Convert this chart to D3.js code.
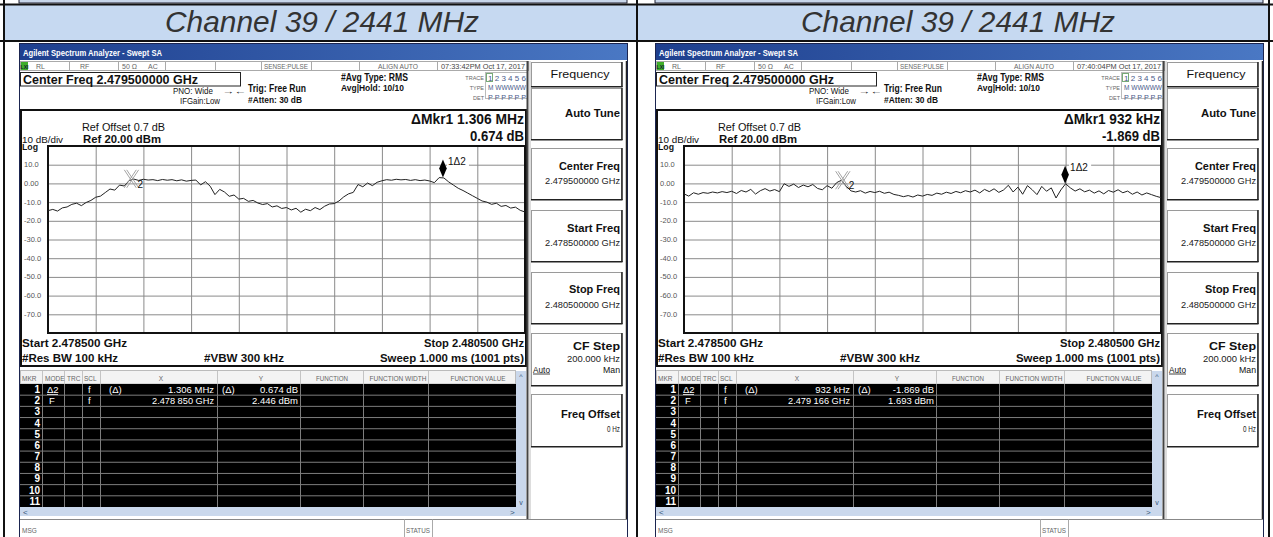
<!DOCTYPE html>
<html>
<head>
<meta charset="utf-8">
<script src="https://cdn.jsdelivr.net/npm/d3@7"></script>
<style>
  body { margin: 0; background: #fff; }
  svg { display: block; }
</style>
</head>
<body>
<svg id="chart" width="1273" height="537"></svg>
<script>
// ---- data ----
const channelTitles = ["Channel 39 / 2441 MHz", "Channel 39 / 2441 MHz"];
const timestamps = ["07:33:42PM Oct 17, 2017", "07:40:04PM Oct 17, 2017"];
const deltaFreqLabels = ["\u0394Mkr1 1.306 MHz", "\u0394Mkr1 932 kHz"];
const deltaLevelLabels = ["0.674 dB", "-1.869 dB"];
const row1X = ["1.306 MHz", "932 kHz"];
const row1Y = ["0.674 dB", "-1.869 dB"];
const row2X = ["2.478 850 GHz", "2.479 166 GHz"];
const row2Y = ["2.446 dBm", "1.693 dBm"];

const mkr2GHz = [2.47885, 2.479166];
const mkr2Dbm = [2.446, 1.693];
const mkr1DeltaMHz = [1.306, 0.932];
const mkr1DeltaDb = [0.674, -1.869];

const sweepStart = 2.4785, sweepStop = 2.4805;   // GHz
const refLevel = 20, dbPerDiv = 10;
const yTicks = [10, 0, -10, -20, -30, -40, -50, -60, -70];
const yTickLabels = ["10.0", "0.00", "-10.0", "-20.0", "-30.0", "-40.0", "-50.0", "-60.0", "-70.0"];

// trace samples, dBm, every 20 kHz from start to stop
const levelsA = [
  -14.6, -13.9, -14.8, -13.1, -12.6, -11.2, -10.6, -11.9, -10.2, -9.1,
  -7.4, -6.8, -4.9, -3.0, -3.6, -0.9, -1.4, 1.5, 2.3, 1.6,
  2.2, 1.8, 2.0, 1.5, 2.1, 1.7, 2.0, 1.4, 1.9, 1.2,
  1.6, 1.8, -0.8, 0.9, -1.5, -6.0, -3.2, -4.6, -6.9, -6.2,
  -8.4, -8.0, -9.6, -9.1, -10.5, -11.3, -10.8, -12.6, -12.0, -13.4,
  -12.9, -14.2, -13.3, -15.4, -13.8, -14.6, -12.9, -14.0, -12.2, -11.0,
  -10.8, -9.4, -7.2, -5.6, -4.8, -0.6, -1.8, 0.2, -1.2, 0.6,
  1.4, 2.0, 1.7, 2.2, 1.9, 2.1, 1.6, 2.0, 1.5, 1.8,
  1.3, 0.4, 3.1, 2.9, 0.8, -0.9, -2.6, -3.8, -5.2, -6.6,
  -8.0, -9.4, -10.0, -11.2, -10.6, -12.3, -11.8, -13.2, -12.7, -14.4,
  -15.3
];
const levelsB = [
  -5.6, -6.8, -5.0, -5.8, -4.9, -5.3, -4.6, -5.1, -4.4, -4.9,
  -4.2, -5.4, -3.8, -4.6, -3.2, -5.7, -3.9, -2.8, -4.1, -3.3,
  -4.4, -0.2, -1.6, -0.4, -2.2, -0.9, -1.8, -0.6, -2.7, -3.4,
  -1.2, -2.6, 0.4, 1.7, -1.5, -4.0, -4.6, -3.9, -5.2, -4.3,
  -4.9, -4.2, -5.3, -4.7, -5.9, -6.4, -7.1, -6.5, -7.3, -6.2,
  -6.8, -5.9, -6.4, -5.2, -5.8, -4.7, -5.4, -4.3, -5.0, -3.9,
  -4.6, -3.6, -5.1, -3.2, -4.4, -2.9, -4.8, -3.5, -1.0, -4.6,
  -2.0, -5.8, -1.2, -3.4, -6.0, -1.6, -4.2, -2.4, -7.8, -3.5,
  -0.2, -2.4, -4.1, -2.9, -4.5, -3.6, -5.2, -4.0, -5.6, -3.8,
  -4.7, -3.4, -5.0, -4.1, -5.8, -4.6, -6.2, -5.1, -6.0, -6.9,
  -7.6
];
const traces = [levelsA, levelsB];

const NARROW = "'Liberation Sans Narrow','Arial Narrow','Liberation Sans',Arial,sans-serif";
const SANS = "'Liberation Sans',Arial,sans-serif";

const svg = d3.select("#chart");

function txt(g, x, y, s, o = {}) {
  const t = g.append("text")
    .attr("x", x).attr("y", y).text(s)
    .attr("font-family", o.family || NARROW)
    .attr("font-size", o.size || 8)
    .attr("font-weight", o.bold ? "bold" : null)
    .attr("font-style", o.italic ? "italic" : null)
    .attr("text-anchor", o.anchor || "start")
    .attr("fill", o.fill || "#111");
  if (o.w) t.attr("textLength", o.w).attr("lengthAdjust", "spacingAndGlyphs");
  return t;
}
function line(g, x1, y1, x2, y2, stroke, sw) {
  return g.append("line").attr("x1", x1).attr("y1", y1).attr("x2", x2).attr("y2", y2)
    .attr("stroke", stroke).attr("stroke-width", sw || 1);
}

const defs = svg.append("defs");
const grad = defs.append("linearGradient").attr("id", "bar");
grad.append("stop").attr("offset", "0%").attr("stop-color", "#1e3f8e");
grad.append("stop").attr("offset", "100%").attr("stop-color", "#4a78c4");

// ---- document table frame ----
[19, 655].forEach(x0 => {
  svg.append("rect").attr("x", x0).attr("y", -2).attr("width", 608).attr("height", 5)
    .attr("fill", "#c8d6ea").attr("stroke", "#223").attr("stroke-width", 1);
});
svg.append("rect").attr("x", 4).attr("y", 5).attr("width", 1265).attr("height", 35).attr("fill", "#c6d9f1");
line(svg, 0, 4.5, 1273, 4.5, "#111", 2);
line(svg, 0, 41, 1273, 41, "#111", 2);
[4, 637, 1269].forEach(x => line(svg, x, 0, x, 537, "#111", 2));
txt(svg, 322, 32, channelTitles[0], { family: SANS, size: 29, italic: true, anchor: "middle", fill: "#333", w: 314 });
txt(svg, 958, 32, channelTitles[1], { family: SANS, size: 29, italic: true, anchor: "middle", fill: "#333", w: 314 });

// ---- one analyzer screenshot ----
function drawScreen(k, ox) {
  const g = svg.append("g").attr("transform", `translate(${ox},0)`);

  g.append("rect").attr("x", 19.5).attr("y", 43.5).attr("width", 608).attr("height", 500)
    .attr("fill", "#fff").attr("stroke", "#1b2550").attr("stroke-width", 1);
  g.append("rect").attr("x", 20).attr("y", 44).attr("width", 607).attr("height", 16).attr("fill", "url(#bar)");
  txt(g, 23, 55.5, "Agilent Spectrum Analyzer - Swept SA", { size: 9, bold: true, fill: "#fff", w: 139 });

  // status row
  g.append("rect").attr("x", 20.5).attr("y", 61.5).attr("width", 508).attr("height", 9)
    .attr("fill", "#fff").attr("stroke", "#aaa");
  [69, 118, 165, 215, 261, 311, 359, 437].forEach(x => line(g, x + 0.5, 61.5, x + 0.5, 70.5, "#aaa"));
  g.append("rect").attr("x", 21).attr("y", 62).attr("width", 7).attr("height", 8).attr("fill", "#3fae2a");
  txt(g, 24.5, 68.5, "LXI", { size: 5, bold: true, anchor: "middle", fill: "#123" });
  const st = { size: 7, fill: "#666" };
  txt(g, 36, 68.5, "RL", st);
  txt(g, 80, 68.5, "RF", st);
  txt(g, 122, 68.5, "50 \u03a9", st);
  txt(g, 148, 68.5, "AC", st);
  txt(g, 286, 68.5, "SENSE:PULSE", { ...st, anchor: "middle", w: 44 });
  txt(g, 398, 68.5, "ALIGN AUTO", { ...st, anchor: "middle", w: 40 });
  txt(g, 483, 68.5, timestamps[k], { ...st, anchor: "middle", fill: "#444", w: 84 });

  // settings block
  g.append("rect").attr("x", 20.5).attr("y", 72.5).attr("width", 220).attr("height", 13.5)
    .attr("fill", "#fff").attr("stroke", "#222");
  txt(g, 23, 84, "Center Freq 2.479500000 GHz", { size: 12.5, bold: true, w: 175 });
  txt(g, 173, 94, "PNO: Wide", { size: 8.5, w: 40 });
  txt(g, 222, 94, "\u2192\u2190", { size: 8, w: 24 });
  txt(g, 180, 103.5, "IFGain:Low", { size: 8.5, w: 40 });
  txt(g, 248, 92, "Trig: Free Run", { size: 10, bold: true, w: 58 });
  txt(g, 248, 102.5, "#Atten: 30 dB", { size: 9, bold: true, w: 54 });
  txt(g, 341, 81, "#Avg Type: RMS", { size: 10, bold: true, w: 67 });
  txt(g, 341, 91, "Avg|Hold: 10/10", { size: 9.5, bold: true, w: 63 });

  // trace indicator
  g.append("rect").attr("x", 485.5).attr("y", 72.5).attr("width", 42).attr("height", 26)
    .attr("fill", "#fff").attr("stroke", "#bbb");
  g.append("rect").attr("x", 486.5).attr("y", 73.5).attr("width", 6).attr("height", 8)
    .attr("fill", "none").attr("stroke", "#7a7");
  txt(g, 484, 80, "TRACE", { size: 5.5, anchor: "end", fill: "#666" });
  txt(g, 484, 90, "TYPE", { size: 5.5, anchor: "end", fill: "#666" });
  txt(g, 484, 99.5, "DET", { size: 5.5, anchor: "end", fill: "#666" });
  txt(g, 488, 80.5, "1 2 3 4 5 6", { size: 8, fill: "#4a5a8a", w: 38 });
  txt(g, 488, 90, "M WWWWW", { size: 6.5, fill: "#4a5a8a", w: 38 });
  txt(g, 488, 99.5, "P P P P P P", { size: 7.5, fill: "#4a5a8a", w: 38 });

  // graph panel
  g.append("rect").attr("x", 21).attr("y", 110).attr("width", 505).attr("height", 256)
    .attr("fill", "#fff").attr("stroke", "#111").attr("stroke-width", 2);
  txt(g, 524, 123.5, deltaFreqLabels[k], { size: 14, bold: true, anchor: "end", w: k ? 96 : 113 });
  txt(g, 524, 141, deltaLevelLabels[k], { size: 14, bold: true, anchor: "end", w: k ? 58 : 54 });
  txt(g, 82, 131, "Ref Offset 0.7 dB", { size: 10, w: 83 });
  txt(g, 22, 142.5, "10 dB/div", { size: 9.5, w: 41 });
  txt(g, 83, 142.5, "Ref 20.00 dBm", { size: 11.5, bold: true, w: 78 });
  txt(g, 22, 150, "Log", { size: 9, bold: true, w: 16 });

  const x = d3.scaleLinear().domain([sweepStart, sweepStop]).range([48, 525]);
  const y = d3.scaleLinear().domain([refLevel - 10 * dbPerDiv, refLevel]).range([333, 146]);

  const xDiv = d3.range(11).map(i => sweepStart + i * (sweepStop - sweepStart) / 10);
  const yDiv = d3.range(11).map(i => refLevel - i * dbPerDiv);

  const grid = g.append("g");
  grid.append("g").attr("transform", "translate(0,333)")
    .call(d3.axisBottom(x).tickValues(xDiv).tickSize(-187).tickFormat(""))
    .call(a => a.select(".domain").remove())
    .selectAll("line").attr("stroke", "#8a8a8a");
  grid.append("g").attr("transform", "translate(48,0)")
    .call(d3.axisLeft(y).tickValues(yDiv).tickSize(-477).tickFormat(""))
    .call(a => a.select(".domain").remove())
    .selectAll("line").attr("stroke", "#8a8a8a");
  g.append("rect").attr("x", 48).attr("y", 146).attr("width", 477).attr("height", 187)
    .attr("fill", "none").attr("stroke", "#111").attr("stroke-width", 2);

  yTicks.forEach((t, i) => txt(g, 24, y(t) + 2.5, yTickLabels[i], { size: 7.5, fill: "#555" }));

  const lv = traces[k];
  const step = (sweepStop - sweepStart) / (lv.length - 1);
  const path = d3.line().x((d, i) => x(sweepStart + i * step)).y(d => y(d));
  g.append("path").datum(lv).attr("d", path)
    .attr("fill", "none").attr("stroke", "#222").attr("stroke-width", 1);

  // marker 2 (fixed) drawn as an X
  const m2x = x(mkr2GHz[k]), m2y = y(mkr2Dbm[k]);
  [-1.2, 1.2].forEach(dx => {
    g.append("path")
      .attr("d", `M${m2x + dx - 6},${m2y - 9}L${m2x + dx + 6},${m2y + 9}M${m2x + dx + 6},${m2y - 9}L${m2x + dx - 6},${m2y + 9}`)
      .attr("stroke", "#9a9a9a").attr("stroke-width", 0.9).attr("fill", "none");
  });
  txt(g, m2x + 6, m2y + 9, "2", { size: 10, family: SANS, fill: "#111" });

  // marker 1 (delta) drawn as a diamond
  const m1x = x(mkr2GHz[k] + mkr1DeltaMHz[k] / 1000), m1y = y(mkr2Dbm[k] + mkr1DeltaDb[k]);
  g.append("rect").attr("x", m1x + 4).attr("y", m1y - 23).attr("width", 22).attr("height", 12).attr("fill", "#fff");
  g.append("path")
    .attr("d", `M${m1x},${m1y}L${m1x + 3.8},${m1y - 9}L${m1x},${m1y - 18}L${m1x - 3.8},${m1y - 9}Z`)
    .attr("fill", "#000");
  txt(g, m1x + 5, m1y - 13, "1\u03942", { size: 10, family: SANS, fill: "#111" });

  // annotations under the grid
  txt(g, 22, 347, "Start 2.478500 GHz", { size: 11.5, bold: true, w: 105 });
  txt(g, 524, 347, "Stop 2.480500 GHz", { size: 11.5, bold: true, anchor: "end", w: 100 });
  txt(g, 22, 361.5, "#Res BW 100 kHz", { size: 11.5, bold: true, w: 96 });
  txt(g, 204, 361.5, "#VBW 300 kHz", { size: 11.5, bold: true, w: 80 });
  txt(g, 524, 361.5, "Sweep  1.000 ms (1001 pts)", { size: 11.5, bold: true, anchor: "end", w: 144 });

  // marker table
  const colX = [42, 64, 82, 100, 217, 300, 363, 428];
  g.append("rect").attr("x", 20.5).attr("y", 370.5).attr("width", 495).attr("height", 13.5)
    .attr("fill", "#f3f3f3").attr("stroke", "#bbb");
  colX.forEach(c => line(g, c + 0.5, 371, c + 0.5, 384, "#c4c4c4"));
  const hd = { size: 6.5, fill: "#666" };
  txt(g, 22, 380.5, "MKR", hd);
  txt(g, 45, 380.5, "MODE", hd);
  txt(g, 67, 380.5, "TRC", hd);
  txt(g, 84, 380.5, "SCL", hd);
  txt(g, 161, 380.5, "X", { ...hd, anchor: "middle" });
  txt(g, 261, 380.5, "Y", { ...hd, anchor: "middle" });
  txt(g, 332, 380.5, "FUNCTION", { ...hd, anchor: "middle", w: 32 });
  txt(g, 398, 380.5, "FUNCTION WIDTH", { ...hd, anchor: "middle", w: 57 });
  txt(g, 478, 380.5, "FUNCTION VALUE", { ...hd, anchor: "middle", w: 55 });

  const rowH = 11.18;
  g.append("rect").attr("x", 20).attr("y", 384).attr("width", 496).attr("height", 123).attr("fill", "#000");
  d3.range(1, 11).forEach(r => line(g, 20, 384 + r * rowH, 516, 384 + r * rowH, "#7d7d7d"));
  colX.forEach(c => line(g, c + 0.5, 384, c + 0.5, 507, "#7d7d7d"));
  d3.range(1, 12).forEach(r => txt(g, 40, 384 + r * rowH - 2.2, String(r), { size: 10, bold: true, fill: "#fff", anchor: "end" }));
  const cell = { size: 9.5, fill: "#fff" };
  const b1 = 384 + rowH - 2.2, b2 = 384 + 2 * rowH - 2.2;
  txt(g, 47, b1, "\u03942", cell);
  line(g, 47, b1 + 1.5, 58, b1 + 1.5, "#fff", 0.8);
  txt(g, 88, b1, "f", cell);
  txt(g, 109, b1, "(\u0394)", cell);
  txt(g, 214, b1, row1X[k], { ...cell, anchor: "end" });
  txt(g, 222, b1, "(\u0394)", cell);
  txt(g, 298, b1, row1Y[k], { ...cell, anchor: "end" });
  txt(g, 49, b2, "F", cell);
  txt(g, 88, b2, "f", cell);
  txt(g, 214, b2, row2X[k], { ...cell, anchor: "end", w: 62 });
  txt(g, 298, b2, row2Y[k], { ...cell, anchor: "end" });

  // scroll bars
  g.append("rect").attr("x", 516).attr("y", 371).attr("width", 10).attr("height", 136).attr("fill", "#cad8ec");
  txt(g, 521, 379, "^", { size: 7, anchor: "middle", fill: "#357" });
  txt(g, 521, 505, "v", { size: 7, anchor: "middle", fill: "#357" });
  g.append("rect").attr("x", 20).attr("y", 507).attr("width", 506).attr("height", 9).attr("fill", "#cad8ec");
  txt(g, 23, 514.5, "<", { size: 8, fill: "#357" });
  txt(g, 510, 514.5, ">", { size: 8, fill: "#357" });
  line(g, 20, 519.5, 627, 519.5, "#888");
  line(g, 404.5, 519.5, 404.5, 537, "#aaa");
  line(g, 432.5, 519.5, 432.5, 537, "#aaa");
  txt(g, 22, 533, "MSG", { size: 6.5, fill: "#666" });
  txt(g, 406, 533, "STATUS", { size: 6.5, fill: "#666", w: 24 });

  // soft key menu
  line(g, 527.5, 61, 527.5, 519, "#444", 2);
  line(g, 530, 61, 530, 519, "#bbb", 1);
  const keys = [[62, 86], [88, 139], [148, 199], [210, 261], [272, 323], [333, 385], [394, 446]];
  keys.forEach(([t, b]) => {
    g.append("rect").attr("x", 531.5).attr("y", t + 0.5).attr("width", 90).attr("height", b - t)
      .attr("fill", "#fff").attr("stroke", "#9a9a9a");
    line(g, 622, t, 622, b + 1, "#222", 1.5);
    line(g, 531, b + 0.75, 622.5, b + 0.75, "#222", 1.5);
  });
  line(g, 626.5, 61, 626.5, 519, "#222", 1.5);
  txt(g, 580, 77.5, "Frequency", { size: 10.5, anchor: "middle", w: 59 });
  const kl = { size: 11, bold: true, anchor: "end" };
  const kv = { size: 8.5, anchor: "end", fill: "#222" };
  txt(g, 620, 117, "Auto Tune", { ...kl, w: 55 });
  txt(g, 620, 170, "Center Freq", { ...kl, w: 61 });
  txt(g, 620, 183.5, "2.479500000 GHz", { ...kv, w: 75 });
  txt(g, 620, 232, "Start Freq", { ...kl, w: 53 });
  txt(g, 620, 245.5, "2.478500000 GHz", { ...kv, w: 75 });
  txt(g, 620, 293, "Stop Freq", { ...kl, w: 51 });
  txt(g, 620, 307.5, "2.480500000 GHz", { ...kv, w: 75 });
  txt(g, 620, 350, "CF Step", { ...kl, w: 47 });
  txt(g, 620, 361.5, "200.000 kHz", { ...kv, w: 53 });
  txt(g, 533, 372.5, "Auto", { size: 9, w: 17 });
  line(g, 533, 374, 550, 374, "#111", 0.8);
  txt(g, 620, 372.5, "Man", { size: 9, anchor: "end", w: 17 });
  txt(g, 620, 418, "Freq Offset", { ...kl, w: 59 });
  txt(g, 620, 432, "0 Hz", { ...kv, w: 13 });
}

drawScreen(0, 0);
drawScreen(1, 636);
</script>
</body>
</html>
